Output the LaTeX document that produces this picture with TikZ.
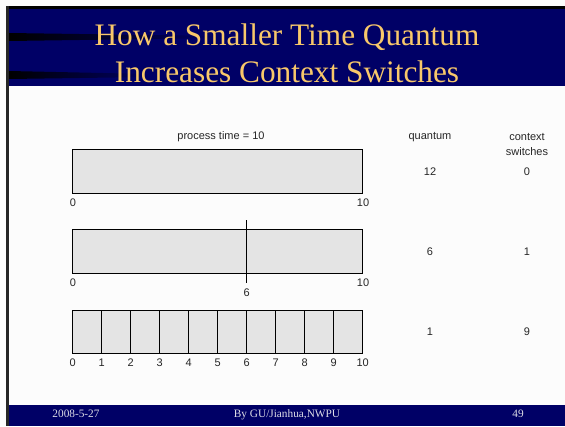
\documentclass[tikz,border=0pt]{standalone}
\usepackage{fontspec}
\setmainfont{Liberation Serif}
\newfontfamily\arialf{Liberation Sans}
\definecolor{navy}{HTML}{000066}
\definecolor{gold}{HTML}{F8C86A}
\definecolor{barfill}{HTML}{E4E4E4}
\definecolor{foot}{HTML}{DDDDE6}
\begin{document}
\begin{tikzpicture}[x=1pt,y=-1pt,
  lbl/.style={font=\arialf\fontsize{11}{13}\selectfont, text=black!85, inner sep=0pt},
  ftxt/.style={font=\fontsize{11.3}{13}\selectfont, text=foot, inner sep=0pt, anchor=base},
  ttl/.style={font=\fontsize{31.3}{37}\selectfont, text=gold, inner sep=0pt, anchor=base},
  barbox/.style={draw=black, line width=0.9pt, fill=barfill},
  tick/.style={draw=black, line width=0.9pt}]
\useasboundingbox (0,0) rectangle (565,426);
\fill[white!99!black] (0,0) rectangle (565,426);
% title band
\fill[navy] (6,6) rectangle (565,86);
\shade[left color=black, right color=navy] (9,33) -- (220,36) -- (220,38) -- (9,41) -- cycle;
\shade[left color=black, right color=navy] (9,71) -- (150,74) -- (150,77) -- (9,79) -- cycle;
\fill[black] (6,6) rectangle (565,9);
% footer band
\fill[navy] (6,405) rectangle (565,426);
% left border
\fill[black!85] (6,6) rectangle (9,426);
% title
\node[ttl] (t1) at (287,45) {How a Smaller Time Quantum};
\node[ttl] (t2) at (287,82.5) {Increases Context Switches};
% headers
\node[lbl] (pt) at (221,137) {process time = 10};
\node[lbl] (hq) at (430,137) {quantum};
\node[lbl] (hc) at (527,137) {context};
\node[lbl] (hs) at (527,152) {switches};
% bar 1
\draw[barbox] (72.7,149.3) rectangle (362.7,193.3);
\node[lbl] (a0) at (73,203) {0};
\node[lbl] (a10) at (363,203) {10};
\node[lbl] (q1) at (430,172) {12};
\node[lbl] (c1) at (527,172) {0};
% bar 2
\draw[barbox] (72.7,229) rectangle (362.7,273);
\coordinate (d2t) at (246.7,220);
\coordinate (d2b) at (246.7,283);
\draw[tick] (d2t) -- (d2b);
\node[lbl] (b0) at (73,283) {0};
\node[lbl] (b10) at (363,283) {10};
\node[lbl] (b6) at (246.7,293) {6};
\node[lbl] (q2) at (430,252) {6};
\node[lbl] (c2) at (527,252) {1};
% bar 3
\draw[barbox] (72.7,310) rectangle (362.7,353.3);
\foreach \i in {1,...,9} {
  \draw[tick] ({72.7+29*\i},310) -- ({72.7+29*\i},353.3);
}
\foreach \i in {0,...,10} {
  \node[lbl] (n\i) at ({72.7+29*\i},363) {\i};
}
\node[lbl] (q3) at (430,332) {1};
\node[lbl] (c3) at (527,332) {9};
% footer
\node[ftxt] (f1) at (76,417) {2008-5-27};
\node[ftxt] (f2) at (287,417) {By GU/Jianhua,NWPU};
\node[ftxt] (f3) at (518,417) {49};
\end{tikzpicture}
\end{document}
